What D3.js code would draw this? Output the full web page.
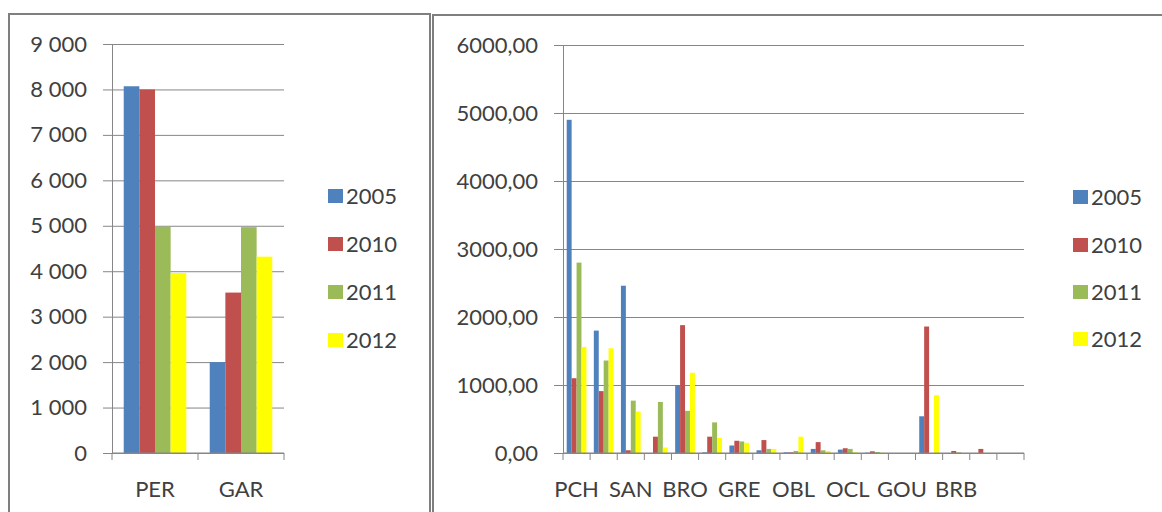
<!DOCTYPE html>
<html>
<head>
<meta charset="utf-8">
<script src="https://cdn.jsdelivr.net/npm/d3@7"></script>
<style>
  body { margin: 0; background: #fff; }
  text { font-family: Lato, "Open Sans", sans-serif; fill: #404040; }
</style>
</head>
<body>
<svg id="chart" width="1162" height="512"></svg>
<script>
// series (years) and colours
var years = ["2005", "2010", "2011", "2012"];
var colors = ["#4f81bd", "#c0504d", "#9bbb59", "#ffff00"];

// left chart
var catsLeft = ["PER", "GAR"];
var left2005 = [8070, 2000];
var left2010 = [8000, 3530];
var left2011 = [4980, 4970];
var left2012 = [3960, 4320];
var ticksLeft = [0, 1000, 2000, 3000, 4000, 5000, 6000, 7000, 8000, 9000];

// right chart: 17 categories, only every other one gets a label
var catsRight = ["PCH", "", "SAN", "", "BRO", "", "GRE", "", "OBL", "", "OCL", "", "GOU", "", "BRB", "", ""];
var right2005 = [4900, 1800, 2460, 0, 1000, 10, 110, 40, 10, 60, 50, 5, 0, 540, 0, 0, 0];
var right2010 = [1100, 910, 40, 240, 1880, 240, 180, 190, 10, 160, 70, 25, 0, 1860, 30, 60, 0];
var right2011 = [2800, 1360, 770, 750, 620, 450, 170, 60, 30, 40, 60, 15, 0, 0, 10, 0, 0];
var right2012 = [1560, 1540, 610, 80, 1180, 220, 150, 60, 240, 30, 10, 5, 0, 850, 0, 0, 0];
var ticksRight = [0, 1000, 2000, 3000, 4000, 5000, 6000];

var svg = d3.select("#chart");
var gray = "#868686";

// frames
svg.append("rect").attr("x", 9).attr("y", 14).attr("width", 421).attr("height", 520)
   .attr("fill", "none").attr("stroke", "#7f7f7f").attr("stroke-width", 2);
svg.append("rect").attr("x", 433).attr("y", 15).attr("width", 760).attr("height", 520)
   .attr("fill", "none").attr("stroke", "#7f7f7f").attr("stroke-width", 2);

function drawChart(opt) {
  var y = d3.scaleLinear().domain(opt.domain).range([453, opt.top]);
  var x = d3.scaleBand().domain(d3.range(opt.cats.length)).range([opt.x0, opt.x1]);
  // Excel gap width 150%
  var xs = d3.scaleBand().domain(years).range([0, x.bandwidth()]).paddingOuter(0.75);

  // gridlines
  svg.append("g")
     .attr("transform", "translate(" + opt.x0 + ",0)")
     .call(d3.axisLeft(y).tickValues(opt.ticks).tickSize(-(opt.x1 - opt.x0)).tickFormat(""))
     .call(function(g) { g.select(".domain").remove(); })
     .selectAll("line").attr("stroke", gray);

  // bars
  opt.series.forEach(function(vals, si) {
    svg.append("g").selectAll("rect")
       .data(vals)
       .enter().append("rect")
       .attr("x", function(d, i) { return x(i) + xs(years[si]); })
       .attr("width", xs.bandwidth())
       .attr("y", function(d) { return y(d); })
       .attr("height", function(d) { return 453 - y(d); })
       .attr("fill", colors[si]);
  });

  // y axis
  var ya = svg.append("g")
     .attr("transform", "translate(" + opt.x0 + ",0)")
     .call(d3.axisLeft(y).tickValues(opt.ticks).tickSize(9).tickPadding(16).tickFormat(opt.fmt));
  ya.selectAll("line, path").attr("stroke", gray);
  ya.selectAll("text").style("font-size", opt.fs + "px").attr("fill", "#404040");

  // x axis with tick marks on category boundaries
  var bounds = d3.range(opt.cats.length + 1).map(function(i) { return opt.x0 + i * x.step(); });
  var xa = svg.append("g");
  xa.append("line").attr("x1", opt.x0).attr("x2", opt.x1).attr("y1", 453).attr("y2", 453)
    .attr("stroke", gray);
  xa.selectAll(".tk").data(bounds).enter().append("line")
    .attr("x1", function(d) { return d; }).attr("x2", function(d) { return d; })
    .attr("y1", 453).attr("y2", 460).attr("stroke", gray);
  xa.selectAll("text").data(opt.cats).enter().append("text")
    .attr("x", function(d, i) { return x(i) + x.bandwidth() / 2; })
    .attr("y", 497)
    .attr("text-anchor", "middle")
    .style("font-size", opt.fs + "px")
    .text(function(d) { return d; });

  // legend
  var lg = svg.append("g");
  years.forEach(function(yr, i) {
    var cy = opt.legY[i];
    lg.append("rect").attr("x", opt.legX).attr("y", cy - 7).attr("width", 15).attr("height", 14)
      .attr("fill", colors[i]);
    lg.append("text").attr("x", opt.legX + 18).attr("y", cy).attr("dy", "0.36em")
      .style("font-size", opt.fs + "px").text(yr);
  });
}

drawChart({
  cats: catsLeft,
  series: [left2005, left2010, left2011, left2012],
  domain: [0, 9000], top: 44, x0: 112, x1: 284,
  ticks: ticksLeft,
  fmt: function(d) { return d3.format(",")(d).replace(/,/g, "\u00a0"); },
  fs: 22,
  legX: 328, legY: [196, 244, 292, 340]
});

drawChart({
  cats: catsRight,
  series: [right2005, right2010, right2011, right2012],
  domain: [0, 6000], top: 45, x0: 563, x1: 1024,
  ticks: ticksRight,
  fmt: function(d) { return d3.format(".2f")(d).replace(".", ","); },
  fs: 22,
  legX: 1073, legY: [197, 245, 292, 339]
});
</script>
</body>
</html>
